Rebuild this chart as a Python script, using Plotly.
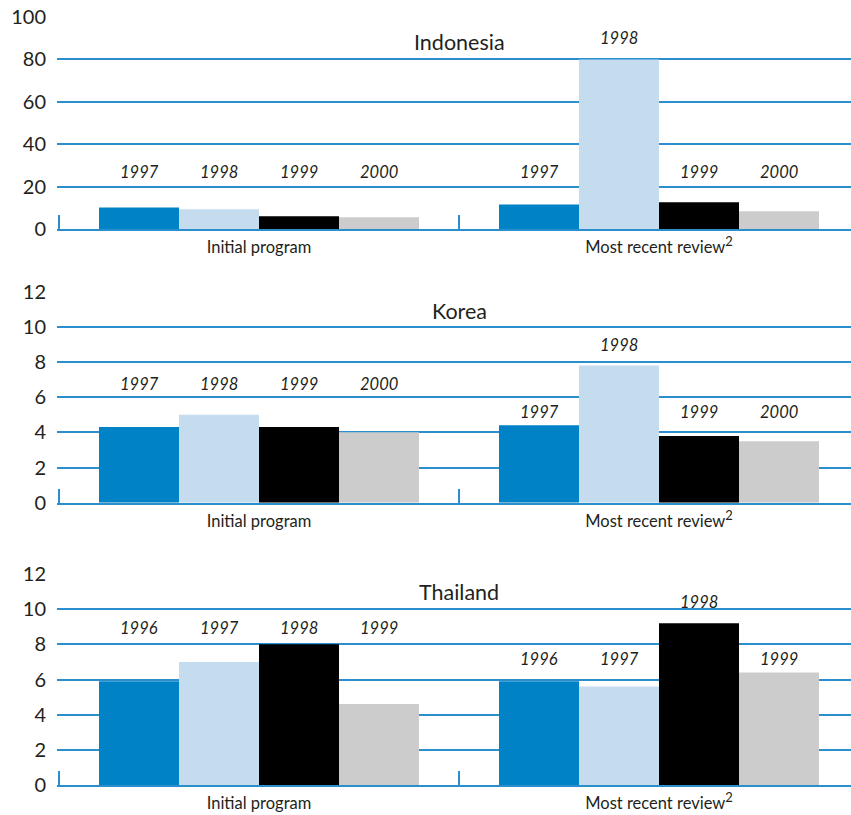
import plotly.graph_objects as go

# Categories (program stage) and data by country
stages = ["Initial program", "Most recent review<sup><span style='font-size:13px'>2</span></sup>"]
countries = ["Indonesia", "Korea", "Thailand"]

indonesia_years = ["1997", "1998", "1999", "2000"]
indonesia_initial = [10.2, 9.3, 6.0, 5.5]
indonesia_recent = [11.6, 80.0, 12.6, 8.4]

korea_years = ["1997", "1998", "1999", "2000"]
korea_initial = [4.3, 5.0, 4.3, 4.0]
korea_recent = [4.4, 7.8, 3.8, 3.5]

thailand_years = ["1996", "1997", "1998", "1999"]
thailand_initial = [5.9, 7.0, 8.0, 4.6]
thailand_recent = [5.9, 5.6, 9.2, 6.4]

y_max = [100, 12, 12]
y_step = [20, 2, 2]

# Layout settings
W, H = 851, 815
LEFT = 57
BAR_COLORS = ["#0082c6", "#c5dcef", "#000000", "#cccccc"]
LINE_COLOR = "#2b8fcd"
TEXT_COLOR = "#231f20"
FONT = "Lato"
# panel pixel extents (top, bottom) measured from the top of the page
PANELS_PX = [(17, 229), (291.7, 502.7), (574, 785)]
# height of the row of year labels in each group (axis units)
LABEL_ROW = [(26.7, 26.7), (6.73, 5.14), (8.95, 7.15)]
TITLE_Y = [0.882, 0.91, 0.915]
BARGAP = 0.2

panels = [
    (indonesia_years, indonesia_initial, indonesia_recent),
    (korea_years, korea_initial, korea_recent),
    (thailand_years, thailand_initial, thailand_recent),
]

fig = go.Figure()
annotations = []
n_bars = 4
bar_w = (1 - BARGAP) / n_bars
year_font = dict(family=FONT, size=16.5, color=TEXT_COLOR, style="italic")

for p, (years, initial, recent) in enumerate(panels):
    xa = "x" if p == 0 else f"x{p + 1}"
    ya = "y" if p == 0 else f"y{p + 1}"
    for k in range(n_bars):
        fig.add_trace(go.Bar(
            x=stages,
            y=[initial[k], recent[k]],
            marker=dict(color=BAR_COLORS[k], line=dict(width=0)),
            xaxis=xa, yaxis=ya,
            showlegend=False,
            hoverinfo="y",
        ))
    # year labels above the bars
    for g, vals in enumerate([initial, recent]):
        row = LABEL_ROW[p][g]
        for k in range(n_bars):
            xc = g - (1 - BARGAP) / 2 + bar_w * (k + 0.5)
            if vals[k] > row * 0.95:
                annotations.append(dict(
                    x=xc, y=vals[k], xref=xa, yref=ya, text=years[k],
                    showarrow=False, yanchor="bottom", yshift=9, font=year_font,
                ))
            else:
                annotations.append(dict(
                    x=xc, y=row, xref=xa, yref=ya, text=years[k],
                    showarrow=False, yanchor="middle", font=year_font,
                ))
    # country title
    annotations.append(dict(
        x=0.5, y=TITLE_Y[p], xref=xa, yref=f"{ya} domain", text=countries[p],
        showarrow=False, yanchor="middle",
        font=dict(family=FONT, size=21.5, color=TEXT_COLOR),
    ))

layout = dict(
    width=W, height=H, autosize=False,
    margin=dict(l=LEFT, r=0, t=0, b=0, pad=0, autoexpand=False),
    paper_bgcolor="white", plot_bgcolor="white",
    barmode="group", bargap=BARGAP, bargroupgap=0,
    annotations=annotations,
    font=dict(family=FONT, color=TEXT_COLOR),
)

# start just left of the first category boundary so its tick is drawn
x_left = -0.505
x_right = x_left + (W - LEFT) / 400.0
for p in range(3):
    top, bot = PANELS_PX[p]
    sx = "" if p == 0 else str(p + 1)
    layout[f"xaxis{sx}"] = dict(
        anchor=f"y{sx}", domain=[0, 1], automargin=False,
        type="category", range=[x_left, x_right],
        tickson="boundaries", ticks="inside", ticklen=14, tickwidth=2,
        tickcolor=LINE_COLOR,
        showline=True, linecolor=LINE_COLOR, linewidth=2,
        showgrid=False, zeroline=False,
        tickfont=dict(family=FONT, size=16.5, color=TEXT_COLOR),
        ticklabelstandoff=2,
        fixedrange=True,
    )
    layout[f"yaxis{sx}"] = dict(
        anchor=f"x{sx}", domain=[1 - bot / H, 1 - top / H], automargin=False,
        range=[0, y_max[p]], dtick=y_step[p], tick0=0,
        showgrid=True, gridcolor=LINE_COLOR, gridwidth=1.6,
        zeroline=False, showline=False, ticks="",
        tickfont=dict(family=FONT, size=20, color=TEXT_COLOR),
        ticklabelstandoff=10,
        fixedrange=True,
    )

fig.update_layout(**layout)
fig.write_html("out.html")
